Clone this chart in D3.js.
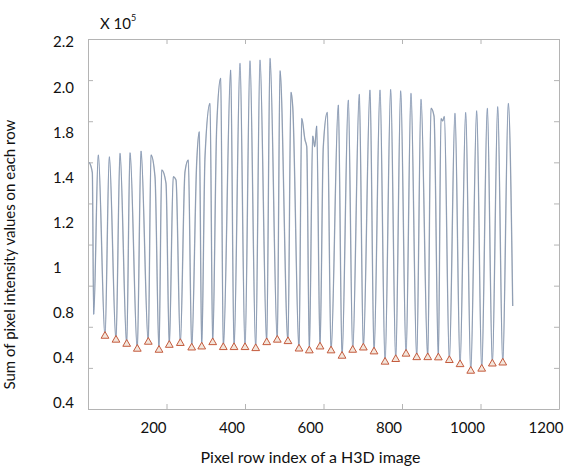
<!DOCTYPE html>
<html>
<head>
<meta charset="utf-8">
<script src="https://cdn.jsdelivr.net/npm/d3@7"></script>
<style>
  body { margin: 0; background: #fff; }
  text { font-family: Lato, "Open Sans", sans-serif; fill: #111; }
  .frame .domain, .frame line { stroke: #b4b4b4; }
</style>
</head>
<body>
<div id="chart"></div>
<script>
// row sums, in units of 1e5
const rowIdx = [3.3, 11, 14.5, 26.2, 43.3, 54.3, 71.3, 81.5, 98.6, 107, 125.6, 135, 153.6, 160.5, 170.7, 180.9,
  187.8, 198.7, 207.1, 217.3, 224.2, 235.2, 247.1, 255.5, 264.2, 277, 283.6, 289.7, 298.1, 310.8, 317.7,
  327.9, 338.1, 344.7, 363.6, 372, 387.3, 400, 412.7, 427.3, 438.2, 455.3, 463.7, 482.3, 489.2, 509.5,
  517.1, 521.6, 537.6, 544.5, 552.9, 557.3, 563.9, 572.5, 577.6, 582.7, 591.1, 599.5, 609.7, 619.2,
  637.8, 647.2, 663.2, 674.4, 691.2, 701.5, 718.5, 728.7, 744, 756.8, 771.2, 784, 796.7, 810.3, 822.9,
  837.5, 848.4, 865.6, 873.9, 881.6, 892.6, 899.4, 903.7, 907.8, 920.6, 935, 947.9, 962.3, 975.1, 990.3,
  1003.1, 1017.4, 1030.2, 1043.9, 1056.7, 1070.9, 1082.1];
const rowSum = [1.60, 1.55, 0.86, 1.636, 0.755, 1.627, 0.736, 1.644, 0.716, 1.647, 0.692, 1.655, 0.726, 1.636, 1.53, 0.687,
  1.563, 1.499, 0.711, 1.53, 1.514, 0.72, 1.554, 1.611, 0.698, 1.603, 1.749, 0.703, 1.627, 1.887, 0.724,
  1.773, 2.009, 0.70, 2.049, 0.70, 2.082, 0.70, 2.094, 0.695, 2.098, 0.724, 2.106, 0.736, 2.046, 0.729,
  1.941, 1.871, 0.693, 1.814, 1.709, 1.676, 0.684, 1.728, 1.676, 1.777, 0.703, 1.676, 1.843, 0.684,
  1.879, 0.658, 1.903, 0.687, 1.931, 0.698, 1.952, 0.679, 1.952, 0.629, 1.955, 0.642, 1.948, 0.668, 1.936,
  0.651, 1.907, 0.651, 1.863, 1.825, 0.65, 1.813, 1.801, 1.823, 0.637, 1.839, 0.617, 1.843, 0.585, 1.851,
  0.595, 1.863, 0.62, 1.871, 0.625, 1.887, 0.901];

// detected minima (triangles)
const minIdx = [43.3, 71.3, 98.6, 125.6, 153.6, 180.9, 207.1, 235.2, 264.2, 289.7, 317.7, 344.7, 372, 400,
  427.3, 455.3, 482.3, 509.5, 537.6, 563.9, 591.1, 619.2, 647.2, 674.4, 701.5, 728.7, 756.8, 784,
  810.3, 837.5, 865.6, 892.6, 920.6, 947.9, 975.1, 1003.1, 1030.2, 1056.7];
const minSum = [0.755, 0.736, 0.716, 0.692, 0.726, 0.687, 0.711, 0.72, 0.698, 0.703, 0.724, 0.70, 0.70, 0.70,
  0.695, 0.724, 0.736, 0.729, 0.693, 0.684, 0.703, 0.684, 0.658, 0.687, 0.698, 0.679, 0.629, 0.642,
  0.668, 0.651, 0.651, 0.65, 0.637, 0.617, 0.585, 0.595, 0.62, 0.625];

const xTicks = [0, 200, 400, 600, 800, 1000, 1200];
const xTickLabels = ["200", "400", "600", "800", "1000", "1200"];
const yTicks = [0.4, 0.6, 0.8, 1.0, 1.2, 1.4, 1.6, 1.8, 2.0, 2.2];
const yTickLabels = ["2.2", "2.0", "1.8", "1.4", "1.2", "1", "0.8", "0.4", "0.4"];

const margin = { top: 39, right: 14, bottom: 61, left: 88 },
      width = 573 - margin.left - margin.right,
      height = 470 - margin.top - margin.bottom;

const x = d3.scaleLinear().domain([0, 1200]).range([0, width]);
const y = d3.scaleLinear().domain([0.4, 2.2]).range([height, 0]);

const svg = d3.select("#chart").append("svg")
    .attr("width", 573)
    .attr("height", 470)
  .append("g")
    .attr("transform", "translate(" + margin.left + "," + margin.top + ")");

// box with inward ticks on all four sides
svg.append("g").attr("class", "frame")
  .attr("transform", "translate(0," + height + ")")
  .call(d3.axisBottom(x).tickValues(xTicks).tickSize(-5).tickSizeOuter(0).tickFormat(""));
svg.append("g").attr("class", "frame")
  .call(d3.axisTop(x).tickValues(xTicks).tickSize(-5).tickSizeOuter(0).tickFormat(""));
svg.append("g").attr("class", "frame")
  .call(d3.axisLeft(y).tickValues(yTicks).tickSize(-5).tickSizeOuter(0).tickFormat(""));
svg.append("g").attr("class", "frame")
  .attr("transform", "translate(" + width + ",0)")
  .call(d3.axisRight(y).tickValues(yTicks).tickSize(-5).tickSizeOuter(0).tickFormat(""));

// tick labels (the original figure places them a little off the ticks)
const yLab = d3.scalePoint().domain(d3.range(yTickLabels.length)).range([3, 364]);
svg.append("g").selectAll("text")
  .data(yTickLabels)
  .join("text")
  .attr("x", -35)
  .attr("y", (d, i) => yLab(i))
  .attr("dy", "0.36em")
  .style("font-size", "15px")
  .text(d => d);

svg.append("g").selectAll("text")
  .data(xTickLabels)
  .join("text")
  .attr("x", d => x(+d) - 13)
  .attr("y", height + 19)
  .attr("dy", "0.36em")
  .attr("text-anchor", "middle")
  .style("font-size", "15px")
  .text(d => d);

// multiplier
const mult = svg.append("text").attr("x", 12).attr("y", -10).style("font-size", "15px");
mult.append("tspan").text("X 10");
mult.append("tspan").attr("dy", -8).style("font-size", "9px").text("5");

// axis titles
svg.append("text")
  .attr("x", x(600) - 13)
  .attr("y", height + 54)
  .attr("text-anchor", "middle")
  .style("font-size", "16px")
  .text("Pixel row index of a H3D image");

svg.append("text")
  .attr("transform", "translate(" + (15 - margin.left) + "," + (y(1.2) + 10) + ") rotate(-90)")
  .attr("text-anchor", "middle")
  .style("font-size", "15px")
  .text("Sum of pixel intensity values on each row");

// the profile
const pts = rowIdx.map((r, i) => [r, rowSum[i]]);
const line = d3.line()
  .x(d => x(d[0]))
  .y(d => y(d[1]))
  .curve(d3.curveMonotoneX);

svg.append("path")
  .datum(pts)
  .attr("d", line)
  .style("fill", "none")
  .style("stroke", "#b3b9bf")
  .style("stroke-width", 1.4);

svg.append("path")
  .datum(pts)
  .attr("d", line)
  .style("fill", "none")
  .style("stroke", "#5a76a6")
  .style("stroke-width", 0.6)
  .style("stroke-opacity", 0.7);

// minima markers
svg.append("g").selectAll("path")
  .data(minIdx.map((r, i) => [r, minSum[i]]))
  .join("path")
  .attr("transform", d => "translate(" + x(d[0]) + "," + y(d[1]) + ")")
  .attr("d", d3.symbol(d3.symbolTriangle, 26))
  .style("fill", "#f3e6dc")
  .style("stroke", "#c45a3c")
  .style("stroke-width", 1);
</script>
</body>
</html>
